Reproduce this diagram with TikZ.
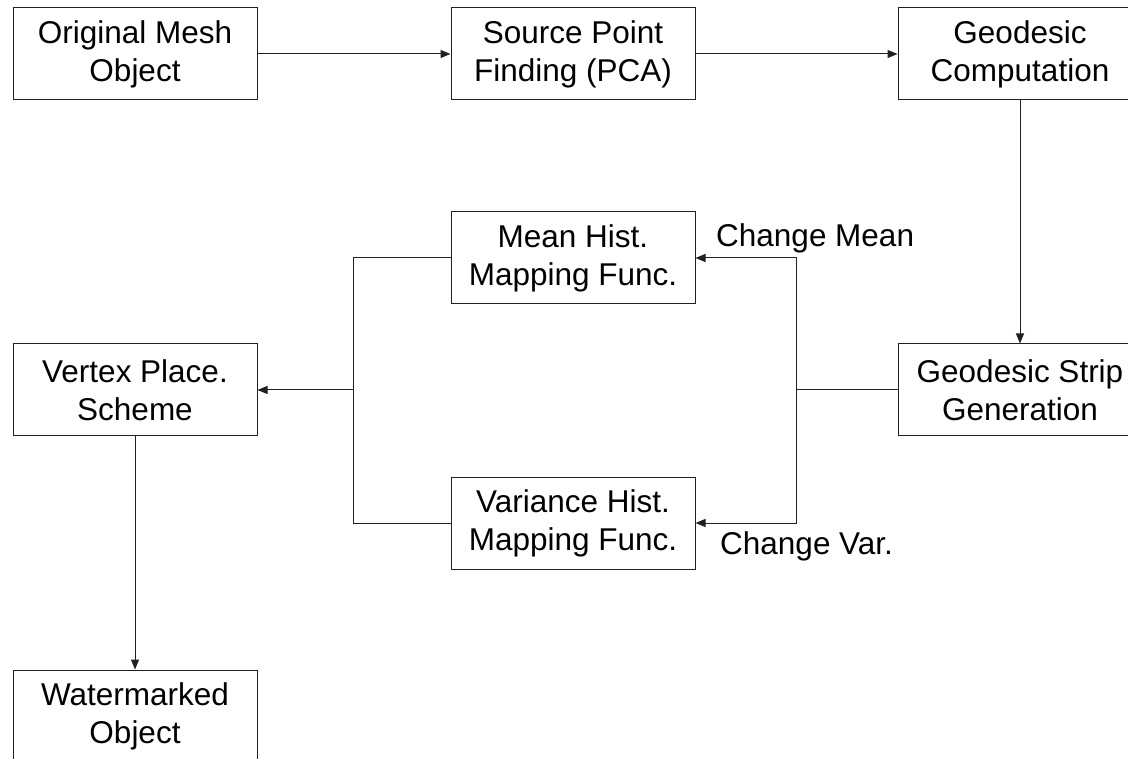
\documentclass[tikz,border=0pt]{standalone}
\usepackage{fontspec}
\setmainfont{Liberation Sans}
\usetikzlibrary{arrows.meta}
\definecolor{line}{HTML}{202020}
\tikzset{
  block/.style={draw=line, line width=1pt, fill=white, minimum width=244pt,
    minimum height=92pt, align=center, inner sep=0pt,
    font=\fontsize{31.5}{38}\selectfont},
  conn/.style={draw=line, line width=1pt},
  arr/.style={conn, -{Triangle[length=10pt,width=8pt]}},
  lab/.style={font=\fontsize{31.5}{38}\selectfont, inner sep=0pt}
}
\begin{document}
\begin{tikzpicture}[x=1pt, y=-1pt]
  \useasboundingbox (0,0) rectangle (1128,759);

  % top row
  \node[block] (orig) at (135,54) {Original Mesh\\Object};
  \node[block] (source) at (573,54) {Source Point\\Finding (PCA)};
  \node[block] (geocomp) at (1020,54) {Geodesic\\Computation};

  % middle
  \node[block] (strip) at (1020,390) {Geodesic Strip\\Generation};
  \node[block] (mean) at (573,258) {Mean Hist.\\Mapping Func.};
  \node[block] (var) at (573,523) {Variance Hist.\\Mapping Func.};
  \node[block] (vertex) at (135,390) {Vertex Place.\\Scheme};

  % bottom
  \node[block] (water) at (135,716) {Watermarked\\Object};

  % junctions
  \coordinate (splitR) at (796,390);
  \coordinate (mergeL) at (353,390);

  % connectors
  \draw[arr] (orig.east) -- (source.west);
  \draw[arr] (source.east) -- (geocomp.west);
  \draw[arr] (geocomp.south) -- (strip.north);
  \draw[conn] (strip.west) -- (splitR);
  \draw[arr] (splitR) |- (mean.east);
  \draw[arr] (splitR) |- (var.east);
  \draw[conn] (mean.west) -| (mergeL);
  \draw[conn] (var.west) -| (mergeL);
  \draw[arr] (mergeL) -- (vertex.east);
  \draw[arr] (vertex.south) -- (water.north);

  % labels
  \node[lab, anchor=west] (lblMean) at (716,238) {Change Mean};
  \node[lab, anchor=west] (lblVar) at (720,546) {Change Var.};
\end{tikzpicture}
\end{document}
